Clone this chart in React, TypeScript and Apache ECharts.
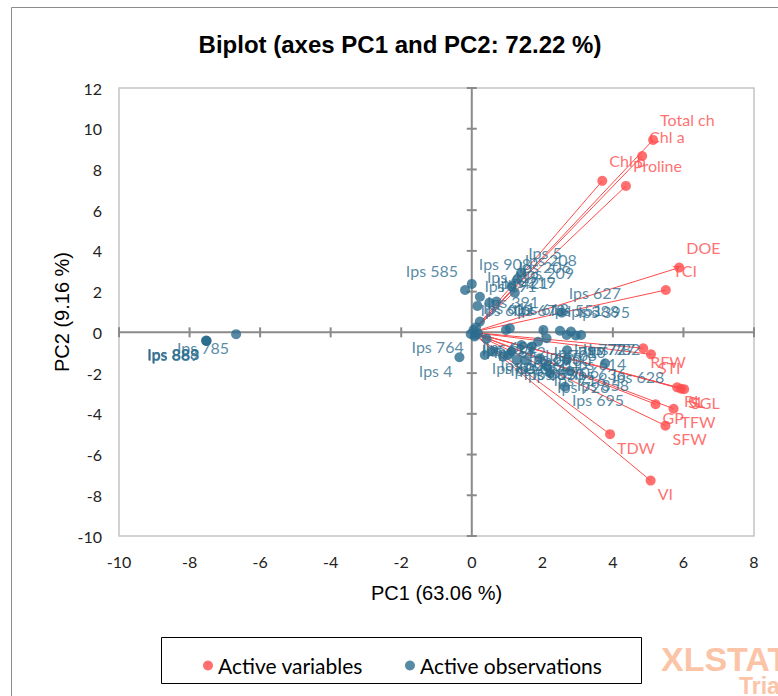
import React, { useEffect, useRef } from 'react';
import * as echarts from 'echarts';

const xTicks = [-10, -8, -6, -4, -2, 0, 2, 4, 6, 8];
const yTicks = [-10, -8, -6, -4, -2, 0, 2, 4, 6, 8, 10, 12];

const varNames = ['Total ch', 'Chl a', 'Chl b', 'Proline', 'DOE', 'TCI', 'RFW', 'STI', 'RL', 'SL', 'SGL', 'GP', 'TFW', 'SFW', 'TDW', 'VI'];
const varX = [5.14, 4.83, 3.70, 4.37, 5.88, 5.50, 4.86, 5.08, 5.82, 5.93, 6.02, 5.21, 5.72, 5.49, 3.92, 5.07];
const varY = [9.45, 8.66, 7.44, 7.19, 3.18, 2.08, -0.78, -1.08, -2.70, -2.77, -2.79, -3.53, -3.75, -4.58, -5.00, -7.28];

const obsNames = [
  'Ips 585', 'Ips 908', 'Ips 5', 'Ips 208', 'Ips 206', 'Ips 209', 'Ips 419', 'Ips 219', 'Ips 421', 'Ips 191',
  'Ips 391', 'Ips 627', 'Ips 388', 'Ips 395', 'Ips 678', 'Ips 618', 'Ips 551', 'Ips 609', 'Ips 611',
  'Ips 764', 'Ips 4', 'Ips 612', 'Ips 602', 'Ips 633', 'Ips 652', 'Ips 607', 'Ips 603', 'Ips 657', 'Ips 661',
  'Ips 660', 'Ips 683', 'Ips 685', 'Ips 690', 'Ips 700', 'Ips 705', 'Ips 706', 'Ips 710', 'Ips 716', 'Ips 726',
  'Ips 614', 'Ips 636', 'Ips 358', 'Ips 695', 'Ips 628', 'Ips 772', 'Ips 777', 'Ips 782',
  'Ips 785', 'Ips 883', 'Ips 889', 'Ips 888'
];
const obsX = [
  -0.19, 0.00, 1.40, 1.30, 1.13, 1.22, 0.23, 0.70, 0.50, 0.16,
  0.23, 2.55, 2.50, 2.81, 0.97, 1.08, 2.03, 0.05, 0.12,
  -0.03, -0.35, 0.10, 0.18, 0.08, 0.42, 0.37, 0.61, 0.89, 1.03,
  1.13, 1.27, 1.41, 1.51, 1.70, 1.88, 1.93, 2.12, 2.12, 2.22,
  2.70, 2.69, 2.78, 2.64, 3.78, 2.69, 2.95, 3.10,
  -6.68, -7.52, -7.52, -7.53
];
const obsY = [
  2.08, 2.38, 2.93, 2.62, 2.25, 1.95, 1.75, 1.51, 1.46, 1.30,
  0.53, 0.97, 0.08, 0.04, 0.12, 0.20, 0.12, 0.12, 0.25,
  -0.08, -1.22, -0.12, -0.05, -0.20, -0.31, -1.11, -0.95, -1.19, -1.11,
  -0.95, -1.36, -0.62, -1.36, -0.70, -0.46, -1.27, -0.29, -1.68, -2.01,
  -0.88, -1.36, -1.90, -2.67, -1.52, -0.13, -0.15, -0.13,
  -0.09, -0.41, -0.43, -0.40
];

const RED = '#FF4B4B';
const BLUE = '#2C6D8E';
const SYM = 10;

function labelFor(x: number, y: number, color: string) {
  const h = SYM / 2;
  const right = x >= 0;
  const up = y >= 0;
  return {
    show: true,
    formatter: '{b}',
    position: [right ? h + 7 : h - 7, up ? h - 20 : h + 13],
    align: right ? 'left' : 'right',
    verticalAlign: 'middle',
    color,
    fontFamily: 'Lato',
    fontSize: 16,
  };
}

export default function App() {
  const ref = useRef<HTMLDivElement>(null);
  useEffect(() => {
    const chart = echarts.init(ref.current!, null, { renderer: 'svg' });
    const varData = varNames.map((n, i) => ({ name: n, value: [varX[i], varY[i]], label: labelFor(varX[i], varY[i], RED) }));
    const obsData = obsNames.map((n, i) => ({ name: n, value: [obsX[i], obsY[i]], label: labelFor(obsX[i], obsY[i], BLUE) }));
    const axisLabel = { fontFamily: 'Lato', fontSize: 16, color: '#222', margin: 17 };
    const option: any = {
      animation: false,
      backgroundColor: '#fff',
      grid: { left: 119, top: 88, width: 635, height: 448, show: true, borderColor: '#C4C4C4', borderWidth: 1.5 },
      xAxis: {
        type: 'value', min: -10, max: 8, interval: 2,
        axisLine: { show: false }, axisTick: { show: false }, splitLine: { show: false },
        axisLabel,
      },
      yAxis: {
        type: 'value', min: -10, max: 12, interval: 2,
        axisLine: { show: false }, axisTick: { show: false }, splitLine: { show: false },
        axisLabel,
      },
      legend: {
        data: [
          { name: 'Active variables', icon: 'circle', itemStyle: { color: RED } },
          { name: 'Active observations', icon: 'circle', itemStyle: { color: BLUE } },
        ],
        left: 198, top: 650, itemWidth: 10, itemHeight: 10, itemGap: 42,
        textStyle: { fontFamily: 'Lato', fontSize: 21, color: '#000' },
      },
      graphic: [
        { type: 'rect', shape: { x: 11.5, y: 7.5, width: 800, height: 720 }, style: { fill: 'none', stroke: '#8C8C8C', lineWidth: 1 }, silent: true },
        { type: 'rect', shape: { x: 161.5, y: 637.5, width: 480, height: 46 }, style: { fill: 'none', stroke: '#000', lineWidth: 1 }, silent: true },
        { type: 'text', x: 400, y: 44, style: { text: 'Biplot (axes PC1 and PC2: 72.22 %)', fill: '#000', font: 'bold 24px "Liberation Sans", Arial', textAlign: 'center', textVerticalAlign: 'middle' } },
        { type: 'text', x: 436.5, y: 593, style: { text: 'PC1 (63.06 %)', fill: '#000', font: '20px "Liberation Sans", Arial', textAlign: 'center', textVerticalAlign: 'middle' } },
        { type: 'text', x: 62, y: 312, rotation: Math.PI / 2, style: { text: 'PC2 (9.16 %)', fill: '#000', font: '20px "Liberation Sans", Arial', textAlign: 'center', textVerticalAlign: 'middle' } },
        { type: 'text', x: 661, y: 659, style: { text: 'XLSTAT', fill: '#FCC4A6', font: 'bold 34px "Liberation Sans", Arial', textAlign: 'left', textVerticalAlign: 'middle' } },
        { type: 'text', x: 739, y: 686, style: { text: 'Trial', fill: '#FCC4A6', font: 'bold 23px "Liberation Sans", Arial', textAlign: 'left', textVerticalAlign: 'middle' } },
      ],
      series: [
        {
          type: 'custom', silent: true, z: 1, data: [[0, 0]],
          renderItem: (_p: any, api: any) => {
            const children: any[] = [];
            const top = api.coord([0, 12]);
            const bot = api.coord([0, -10]);
            const lft = api.coord([-10, 0]);
            const rgt = api.coord([8, 0]);
            const st = { stroke: '#8A8A8A', lineWidth: 2 };
            children.push({ type: 'line', shape: { x1: top[0], y1: top[1], x2: bot[0], y2: bot[1] }, style: st });
            children.push({ type: 'line', shape: { x1: lft[0], y1: lft[1], x2: rgt[0], y2: rgt[1] }, style: st });
            yTicks.forEach((t) => {
              const p = api.coord([0, t]);
              children.push({ type: 'line', shape: { x1: p[0] - 5, y1: p[1], x2: p[0] + 5, y2: p[1] }, style: st });
            });
            xTicks.forEach((t) => {
              const p = api.coord([t, 0]);
              children.push({ type: 'line', shape: { x1: p[0], y1: p[1] - 5, x2: p[0], y2: p[1] + 5 }, style: st });
            });
            return { type: 'group', children };
          },
        },
        {
          type: 'lines', coordinateSystem: 'cartesian2d', silent: true, z: 2,
          data: varNames.map((n, i) => ({ coords: [[0, 0], [varX[i], varY[i]]] })),
          lineStyle: { color: RED, width: 1, opacity: 1 },
        },
        {
          name: 'Active variables', type: 'scatter', z: 3, symbol: 'circle', symbolSize: SYM,
          itemStyle: { color: RED }, data: varData,
        },
        {
          name: 'Active observations', type: 'scatter', z: 4, symbol: 'circle', symbolSize: SYM,
          itemStyle: { color: BLUE }, data: obsData,
        },
      ],
    };
    chart.setOption(option);
    return () => chart.dispose();
  }, []);
  return <div ref={ref} style={{ position: 'fixed', left: 0, top: 0, width: 778, height: 696, background: '#fff' }} />;
}
